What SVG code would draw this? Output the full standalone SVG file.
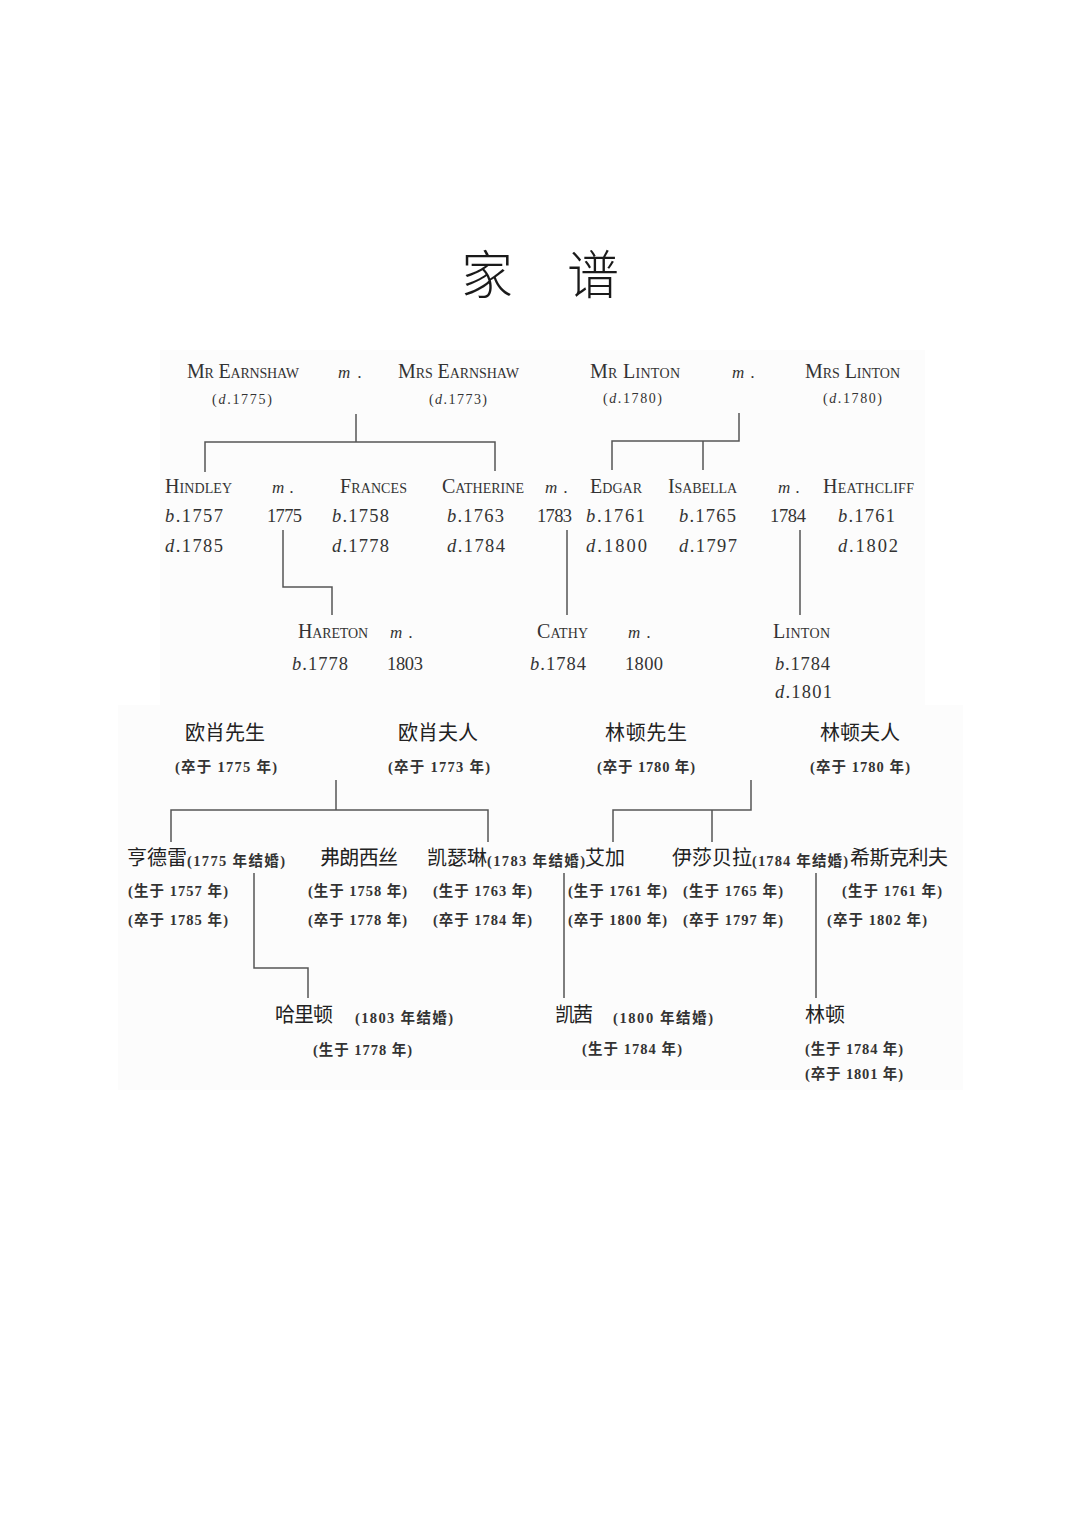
<svg xmlns="http://www.w3.org/2000/svg" width="1080" height="1528" viewBox="0 0 1080 1528">
<style>
.bg{fill:#fcfcfc}
.title{font-family:"Noto Sans CJK SC",sans-serif;font-size:52px;fill:#1a1a1a;font-weight:300}
.sc{font-family:"Liberation Serif",serif;font-variant:small-caps;font-size:20px;fill:#333}
.m{font-family:"Liberation Serif",serif;font-style:italic;font-size:17px;fill:#333}
.dd{font-family:"Liberation Serif",serif;font-size:14px;fill:#333}
.yr{font-family:"Liberation Serif",serif;font-size:18.5px;fill:#333}
.it{font-style:italic}
.cn{font-family:"Noto Sans CJK SC",sans-serif;font-size:20px;fill:#222}
.cp{font-family:"Liberation Serif","Noto Sans CJK SC",serif;font-size:14.5px;font-weight:bold;fill:#333}
.ln{fill:none;stroke:#555;stroke-width:1.5}
</style>
<rect class="bg" x="160" y="350" width="765" height="355"/>
<rect class="bg" x="118" y="705" width="845" height="385"/>
<g id="title">
<text class="title" x="487" y="294" text-anchor="middle">家</text>
<text class="title" x="593" y="294" text-anchor="middle">谱</text>
</g>
<g id="connectors">
<path class="ln" d="M356,414 V442 M205,472 V442 H495 V471"/>
<path class="ln" d="M739,413 V441 H612 V470 M703,441 V470"/>
<path class="ln" d="M283,530 V587 H332 V615"/>
<path class="ln" d="M567,530 V615"/>
<path class="ln" d="M800,530 V615"/>
<path class="ln" d="M336,780 V810 M171,842 V810 H488 V842"/>
<path class="ln" d="M751,780 V810 H613 V842 M712,810 V842"/>
<path class="ln" d="M254,873 V968 H308 V998"/>
<path class="ln" d="M564,873 V998"/>
<path class="ln" d="M816,873 V998"/>
</g>
<!-- English tree -->
<g id="en-mr-earnshaw">
<text class="sc" x="187" y="378" textLength="112">Mr Earnshaw</text>
<text class="dd" x="212" y="404" textLength="60">(<tspan class="it">d</tspan>.1775)</text>
</g>
<g id="en-m-earnshaw"><text class="m" x="338" y="378" textLength="24">m.</text></g>
<g id="en-mrs-earnshaw">
<text class="sc" x="398" y="378" textLength="121">Mrs Earnshaw</text>
<text class="dd" x="429" y="404" textLength="58">(<tspan class="it">d</tspan>.1773)</text>
</g>
<g id="en-mr-linton">
<text class="sc" x="590" y="378" textLength="90">Mr Linton</text>
<text class="dd" x="603" y="403" textLength="59">(<tspan class="it">d</tspan>.1780)</text>
</g>
<g id="en-m-linton"><text class="m" x="732" y="378" textLength="23">m.</text></g>
<g id="en-mrs-linton">
<text class="sc" x="805" y="378" textLength="95">Mrs Linton</text>
<text class="dd" x="823" y="403" textLength="59">(<tspan class="it">d</tspan>.1780)</text>
</g>
<g id="en-hindley">
<text class="sc" x="165" y="493" textLength="67">Hindley</text>
<text class="yr" x="165" y="522" textLength="58"><tspan class="it">b</tspan>.1757</text>
<text class="yr" x="165" y="552" textLength="58"><tspan class="it">d</tspan>.1785</text>
</g>
<g id="en-m-hindley-frances">
<text class="m" x="272" y="493" textLength="22">m.</text>
<text class="yr" x="267" y="522" textLength="35">1775</text>
</g>
<g id="en-frances">
<text class="sc" x="340" y="493" textLength="67">Frances</text>
<text class="yr" x="332" y="522" textLength="57"><tspan class="it">b</tspan>.1758</text>
<text class="yr" x="332" y="552" textLength="57"><tspan class="it">d</tspan>.1778</text>
</g>
<g id="en-catherine">
<text class="sc" x="442" y="493" textLength="82">Catherine</text>
<text class="yr" x="447" y="522" textLength="57"><tspan class="it">b</tspan>.1763</text>
<text class="yr" x="447" y="552" textLength="58"><tspan class="it">d</tspan>.1784</text>
</g>
<g id="en-m-catherine-edgar">
<text class="m" x="545" y="493" textLength="23">m.</text>
<text class="yr" x="537" y="522" textLength="35">1783</text>
</g>
<g id="en-edgar">
<text class="sc" x="590" y="493" textLength="52">Edgar</text>
<text class="yr" x="586" y="522" textLength="59"><tspan class="it">b</tspan>.1761</text>
<text class="yr" x="586" y="552" textLength="61"><tspan class="it">d</tspan>.1800</text>
</g>
<g id="en-isabella">
<text class="sc" x="668" y="493" textLength="69">Isabella</text>
<text class="yr" x="679" y="522" textLength="57"><tspan class="it">b</tspan>.1765</text>
<text class="yr" x="679" y="552" textLength="58"><tspan class="it">d</tspan>.1797</text>
</g>
<g id="en-m-isabella-heathcliff">
<text class="m" x="778" y="493" textLength="22">m.</text>
<text class="yr" x="770" y="522" textLength="36">1784</text>
</g>
<g id="en-heathcliff">
<text class="sc" x="823" y="493" textLength="91">Heathcliff</text>
<text class="yr" x="838" y="522" textLength="57"><tspan class="it">b</tspan>.1761</text>
<text class="yr" x="838" y="552" textLength="60"><tspan class="it">d</tspan>.1802</text>
</g>
<g id="en-hareton">
<text class="sc" x="298" y="638" textLength="70">Hareton</text>
<text class="yr" x="292" y="670" textLength="56"><tspan class="it">b</tspan>.1778</text>
</g>
<g id="en-m-hareton-cathy">
<text class="m" x="390" y="638" textLength="23">m.</text>
<text class="yr" x="387" y="670" textLength="36">1803</text>
</g>
<g id="en-cathy">
<text class="sc" x="537" y="638" textLength="51">Cathy</text>
<text class="yr" x="530" y="670" textLength="56"><tspan class="it">b</tspan>.1784</text>
</g>
<g id="en-m-cathy">
<text class="m" x="628" y="638" textLength="23">m.</text>
<text class="yr" x="625" y="670" textLength="38">1800</text>
</g>
<g id="en-linton">
<text class="sc" x="773" y="638" textLength="57">Linton</text>
<text class="yr" x="775" y="670" textLength="55"><tspan class="it">b</tspan>.1784</text>
<text class="yr" x="775" y="698" textLength="57"><tspan class="it">d</tspan>.1801</text>
</g>
<!-- Chinese tree -->
<g id="cn-mr-earnshaw">
<text class="cn" x="185" y="740" textLength="80">欧肖先生</text>
<text class="cp" x="175" y="772" textLength="102">(卒于 1775 年)</text>
</g>
<g id="cn-mrs-earnshaw">
<text class="cn" x="398" y="740" textLength="80">欧肖夫人</text>
<text class="cp" x="388" y="772" textLength="102">(卒于 1773 年)</text>
</g>
<g id="cn-mr-linton">
<text class="cn" x="605" y="740" textLength="82">林顿先生</text>
<text class="cp" x="597" y="772" textLength="98">(卒于 1780 年)</text>
</g>
<g id="cn-mrs-linton">
<text class="cn" x="820" y="740" textLength="80">林顿夫人</text>
<text class="cp" x="810" y="772" textLength="100">(卒于 1780 年)</text>
</g>
<g id="cn-hindley">
<text class="cn" x="127" y="865" textLength="60">亨德雷</text>
<text class="cp" x="128" y="896" textLength="100">(生于 1757 年)</text>
<text class="cp" x="128" y="925" textLength="100">(卒于 1785 年)</text>
</g>
<g id="cn-m-hindley"><text class="cp" x="187" y="866" textLength="98">(1775 年结婚)</text></g>
<g id="cn-frances">
<text class="cn" x="320" y="865" textLength="78">弗朗西丝</text>
<text class="cp" x="308" y="896" textLength="99">(生于 1758 年)</text>
<text class="cp" x="308" y="925" textLength="99">(卒于 1778 年)</text>
</g>
<g id="cn-catherine">
<text class="cn" x="427" y="865" textLength="60">凯瑟琳</text>
<text class="cp" x="433" y="896" textLength="99">(生于 1763 年)</text>
<text class="cp" x="433" y="925" textLength="99">(卒于 1784 年)</text>
</g>
<g id="cn-m-catherine"><text class="cp" x="487" y="866" textLength="98">(1783 年结婚)</text></g>
<g id="cn-edgar">
<text class="cn" x="585" y="865" textLength="40">艾加</text>
<text class="cp" x="568" y="896" textLength="99">(生于 1761 年)</text>
<text class="cp" x="568" y="925" textLength="99">(卒于 1800 年)</text>
</g>
<g id="cn-isabella">
<text class="cn" x="672" y="865" textLength="80">伊莎贝拉</text>
<text class="cp" x="683" y="896" textLength="100">(生于 1765 年)</text>
<text class="cp" x="683" y="925" textLength="100">(卒于 1797 年)</text>
</g>
<g id="cn-m-isabella"><text class="cp" x="752" y="866" textLength="96">(1784 年结婚)</text></g>
<g id="cn-heathcliff">
<text class="cn" x="850" y="865" textLength="98">希斯克利夫</text>
<text class="cp" x="842" y="896" textLength="100">(生于 1761 年)</text>
<text class="cp" x="827" y="925" textLength="100">(卒于 1802 年)</text>
</g>
<g id="cn-hareton">
<text class="cn" x="275" y="1022" textLength="58">哈里顿</text>
<text class="cp" x="313" y="1055" textLength="99">(生于 1778 年)</text>
</g>
<g id="cn-m-hareton"><text class="cp" x="355" y="1023" textLength="98">(1803 年结婚)</text></g>
<g id="cn-cathy">
<text class="cn" x="555" y="1022" textLength="38">凯茜</text>
<text class="cp" x="582" y="1054" textLength="100">(生于 1784 年)</text>
</g>
<g id="cn-m-cathy"><text class="cp" x="613" y="1023" textLength="100">(1800 年结婚)</text></g>
<g id="cn-linton">
<text class="cn" x="805" y="1022" textLength="40">林顿</text>
<text class="cp" x="805" y="1054" textLength="98">(生于 1784 年)</text>
<text class="cp" x="805" y="1079" textLength="98">(卒于 1801 年)</text>
</g>
</svg>
